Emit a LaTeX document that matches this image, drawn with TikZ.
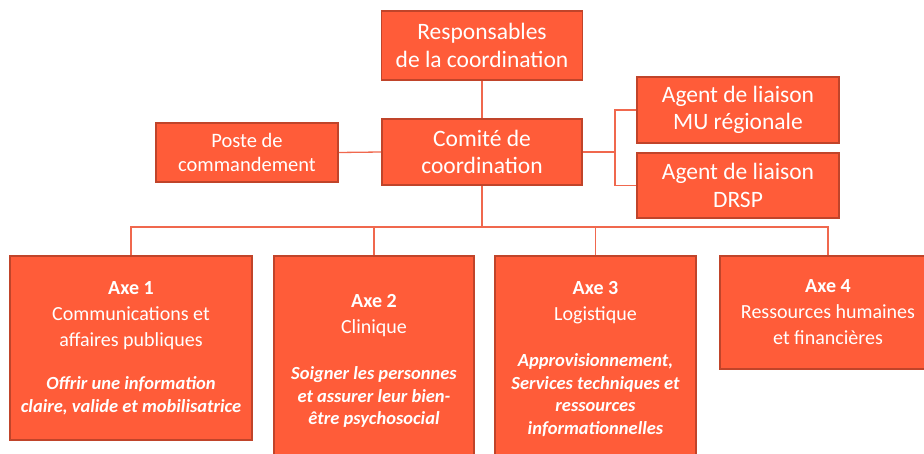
\documentclass[tikz,border=0pt]{standalone}
\usepackage{fontspec}
\setmainfont{Carlito}
\definecolor{boxfill}{RGB}{255,92,57}
\definecolor{boxline}{RGB}{192,68,42}
\definecolor{conn}{RGB}{240,104,78}
\newcommand{\bigtxt}{\fontsize{23.5}{27.5}\selectfont}
\newcommand{\midtxt}{\fontsize{20.5}{24}\selectfont}
\newcommand{\axetxt}{\fontsize{20}{26}\selectfont}
\newcommand{\desctxt}[1]{{\fontsize{18.5}{22.5}\selectfont\bfseries\itshape #1\par}}
\begin{document}
\begin{tikzpicture}[x=1pt,y=-1pt,
  orgbox/.style={draw=boxline, line width=1.6pt, fill=boxfill, text=white,
    inner sep=0pt, align=flush center},
  axebox/.style={orgbox, anchor=north, font=\axetxt},
  link/.style={draw=conn, line width=1.3pt}]
\useasboundingbox (0,0) rectangle (924,454);
\clip (0,0) rectangle (924,454);
\node[orgbox, minimum width=201, minimum height=69, font=\bigtxt] (resp) at (482,45.5)
  {Responsables\\de la coordination};
\node[orgbox, minimum width=200, minimum height=66, font=\bigtxt] (comite) at (482,152)
  {Comité de\\coordination};
\node[orgbox, minimum width=182, minimum height=59, font=\midtxt] (poste) at (247,152.5)
  {Poste de\\commandement};
\node[orgbox, minimum width=202, minimum height=66, font=\bigtxt] (mu) at (738,110)
  {Agent de liaison\\MU régionale};
\node[orgbox, minimum width=202, minimum height=65, font=\bigtxt] (drsp) at (738,185.5)
  {Agent de liaison\\DRSP};
\node[axebox, minimum width=242, minimum height=184, text width=238] (a1) at (131,255)
  {\textbf{Axe 1}\\Communications et\\affaires publiques\par\vspace{21pt}%
   \desctxt{Offrir une information\\claire, valide et mobilisatrice}};
\node[axebox, minimum width=200, minimum height=210, text width=196] (a2) at (374,255)
  {\textbf{Axe 2}\\Clinique\par\vspace{24pt}%
   \desctxt{Soigner les personnes\\et assurer leur bien-\\être psychosocial}};
\node[axebox, minimum width=201, minimum height=206, text width=197] (a3) at (595.5,255)
  {\textbf{Axe 3}\\Logistique\par\vspace{24pt}%
   \desctxt{Approvisionnement,\\Services techniques et\\ressources\\informationnelles}};
\node[axebox, minimum width=216, minimum height=113, text width=212] (a4) at (828,255)
  {\textbf{Axe 4}\\Ressources humaines\\et financières};
\coordinate (bus) at (482,227);
\coordinate (br) at (615,152);
\draw[link] (resp.south) -- (comite.north);
\draw[link] (poste.east) -- (comite.west);
\draw[link] (comite.east) -- (br);
\draw[link] (mu.west) -- (mu.west -| br) -- (drsp.west -| br) -- (drsp.west);
\draw[link] (comite.south) -- (bus);
\draw[link] (a1.north) |- (bus) -| (a4.north);
\draw[link] (a2.north) -- (a2.north |- bus);
\draw[link] (a3.north) -- (a3.north |- bus);
\end{tikzpicture}
\end{document}
